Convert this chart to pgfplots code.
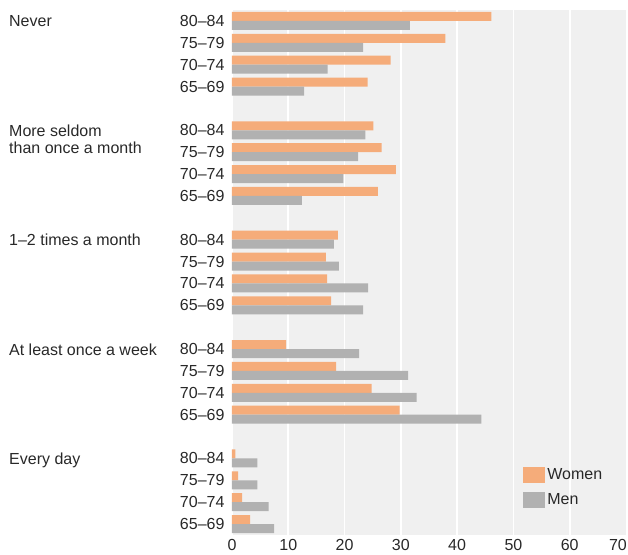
\documentclass[border=0pt]{standalone}
\usepackage{fontspec}
\setmainfont{Liberation Sans}
\usepackage{pgfplots}
\pgfplotsset{compat=1.18}
\definecolor{women}{RGB}{245,172,122}
\definecolor{men}{RGB}{177,177,177}
\definecolor{bg}{RGB}{240,240,240}
\definecolor{txt}{RGB}{40,40,40}
\newcommand{\lf}{\fontsize{16}{19}\selectfont}
\begin{document}
\begin{tikzpicture}
\begin{axis}[
  scale only axis, width=394pt, height=525pt,
  xmin=0, xmax=70, ymin=-0.5, ymax=23.5, y dir=reverse,
  enlargelimits=false,
  axis background/.style={fill=bg},
  axis line style={draw=none},
  xtick={0,10,...,60},
  extra x ticks={70},
  extra x tick style={grid=none, xticklabel style={xshift=-8pt}},
  xmajorgrids, grid style={white, line width=1.6pt},
  major tick length=0pt,
  ytick={0,1,2,3,5,6,7,8,10,11,12,13,15,16,17,18,20,21,22,23},
  yticklabels={80–84,75–79,70–74,65–69,80–84,75–79,70–74,65–69,80–84,75–79,70–74,65–69,80–84,75–79,70–74,65–69,80–84,75–79,70–74,65–69},
  tick label style={font=\lf, text=txt},
  /pgf/number format/assume math mode=true,
  xticklabel style={yshift=-1pt},
  yticklabel style={xshift=-4pt},
  xbar, bar width=0.41,
  clip=false,
  legend style={at={(rel axis cs:0.739,0.131)}, anchor=north west, draw=none, fill=none,
    font=\lf, text=txt, inner sep=0pt, row sep=9pt, legend cell align=left,
    /tikz/every even column/.style={column sep=4pt}},
]
\addplot[fill=women, draw=none, bar shift=-0.205,
  legend image code/.code={\fill[women] (0pt,-8pt) rectangle (22pt,8pt);}]
  coordinates {
  (46.1,0) (37.9,1) (28.2,2) (24.1,3)
  (25.1,5) (26.6,6) (29.1,7) (25.9,8)
  (18.8,10) (16.7,11) (16.9,12) (17.6,13)
  (9.6,15) (18.5,16) (24.8,17) (29.8,18)
  (0.6,20) (1.1,21) (1.8,22) (3.2,23)
  };
\addlegendentry{Women}
\addplot[fill=men, draw=none, bar shift=0.205,
  legend image code/.code={\fill[men] (0pt,-8pt) rectangle (22pt,8pt);}]
  coordinates {
  (31.6,0) (23.3,1) (17.0,2) (12.8,3)
  (23.7,5) (22.4,6) (19.8,7) (12.4,8)
  (18.1,10) (19.0,11) (24.2,12) (23.3,13)
  (22.6,15) (31.3,16) (32.8,17) (44.3,18)
  (4.5,20) (4.5,21) (6.5,22) (7.5,23)
  };
\addlegendentry{Men}
\node[anchor=base west, font=\lf, text=txt, xshift=-223pt, yshift=-6pt, inner sep=0pt] at (axis cs:0,0) {Never};
\node[anchor=base west, font=\lf, text=txt, xshift=-223pt, yshift=-6pt, inner sep=0pt] at (axis cs:0,5) {More seldom};
\node[anchor=base west, font=\lf, text=txt, xshift=-223pt, yshift=-23pt, inner sep=0pt] at (axis cs:0,5) {than once a month};
\node[anchor=base west, font=\lf, text=txt, xshift=-223pt, yshift=-6pt, inner sep=0pt] at (axis cs:0,10) {1–2 times a month};
\node[anchor=base west, font=\lf, text=txt, xshift=-223pt, yshift=-6pt, inner sep=0pt] at (axis cs:0,15) {At least once a week};
\node[anchor=base west, font=\lf, text=txt, xshift=-223pt, yshift=-6pt, inner sep=0pt] at (axis cs:0,20) {Every day};
\end{axis}
\pgfresetboundingbox
\path ([xshift=-232pt,yshift=10pt]current axis.north west) rectangle ([xshift=2pt,yshift=-19pt]current axis.south east);
\end{tikzpicture}
\end{document}
